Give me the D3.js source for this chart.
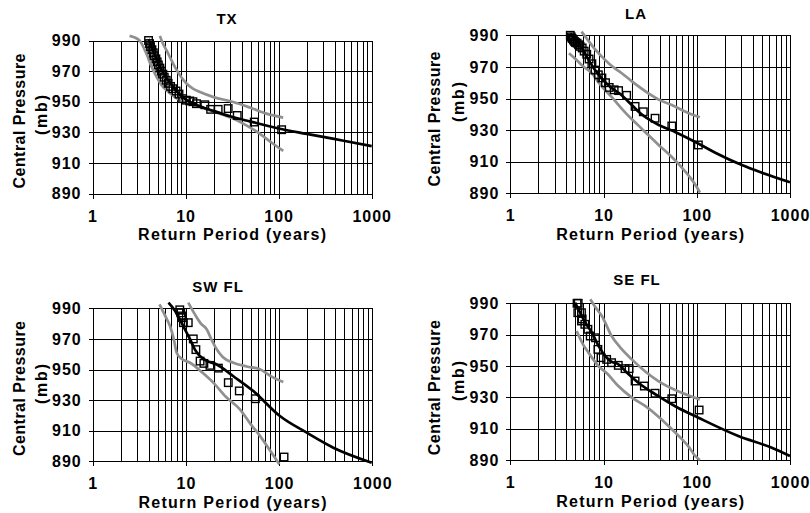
<!DOCTYPE html>
<html>
<head>
<meta charset="utf-8">
<script src="https://cdn.jsdelivr.net/npm/d3@7"></script>
<style>
body { margin: 0; background: #fff; }
svg text { font-family: "Liberation Sans", Arial, sans-serif; font-weight: bold; fill: #000; }
</style>
</head>
<body>
<svg id="chart" width="810" height="513"></svg>
<script>
// values: [return period (years), central pressure (mb)]
var panelNames = ["TX", "LA", "SW FL", "SE FL"];
var xTickValues = [1, 10, 100, 1000];
var yTickValues = [890, 910, 930, 950, 970, 990];
var xTitle = "Return Period (years)";
var yTitle = ["Central Pressure", "(mb)"];

var txObs = [[4.0,990],[4.1,988],[4.2,986],[4.35,984],[4.5,982],[4.6,980],[4.8,978],[4.95,976],[5.1,974],[5.3,972],
    [5.5,970],[5.7,968],[5.9,966],[6.2,964],[6.5,962],[6.9,960],[7.3,958.5],[7.9,957],[8.5,955],[9.3,952],
    [10.2,951],[11.1,950.5],[12,950],[13.1,948.7],[16.1,948],[18.6,945],[22.4,945],[28.7,945.5],[35.9,941],
    [54.7,936.7],[107.7,931.7]];
var txFit = [[4,991],[4.5,983],[5,976],[5.5,971],[6,967],[7,961.5],[8,957],[10,951.5],[12,949],[15,946.5],
    [20,944],[30,940.5],[50,937],[100,932.5],[200,929],[300,927],[500,924.5],[1000,921]];
var txUpper = [[5.3,993],[5.7,988],[6.25,983.5],[7,977.5],[7.7,972.6],[9,966],[10.3,961.7],[12,958.5],
    [14.3,956.3],[20,953],[32.5,949.8],[50,946],[74,942.2],[112,939.6]];
var txLower = [[2.5,993],[3.2,990],[3.8,981.3],[4.3,973],[4.9,966],[5.5,961],[6.25,957.4],[7.5,953.5],
    [8.7,951],[10,949.5],[14.3,946.5],[20,943.5],[32.5,939],[45,934.5],[63,929],[85,923],[112,917.8]];

var laObs = [[4.4,990],[4.5,989],[4.6,988],[4.75,987],[4.9,986],[5.0,985.5],[5.2,985],[5.4,984],[5.6,983],
    [5.9,982],[6.2,980],[6.6,978],[7.0,975],[7.5,972],[8.1,968],[8.8,965],[9.6,963],[10.5,960],[11.5,957],
    [13,955.5],[14.5,955],[17.7,952],[21.8,945],[26.7,941.6],[35.7,937.5],[54,932.6],[104,920.6]];
var laFit = [[4.4,991],[5,987],[6,981],[7,974],[8,968.5],[10,961.5],[12,957],[15,953],[20,946],[25,940.5],
    [40,933],[60,928.5],[100,922],[160,915.5],[300,908],[500,903],[1000,897]];
var laUpper = [[5.8,992.3],[7,986],[8,981.5],[9.6,976.5],[12,971],[15.7,966],[20,961],[30.3,953.3],
    [40,949],[54,945.9],[80,941],[108,938.1]];
var laLower = [[4.26,978.6],[5,975],[6,970.5],[7.5,966],[9,959.5],[12.2,951],[16,943],[20,937],[23.6,933],
    [30,927],[40,920],[54,913],[70,906],[85,900],[100,894],[108,890.4]];

var swObs = [[8.6,989],[8.8,987],[9.0,985],[9.2,983.9],[9.4,980.6],[10.6,980.6],[12,970],[12.8,963],
    [14.2,955.5],[15.6,954],[18.1,952.7],[22.3,950.9],[28.5,941.4],[37.4,936],[55.6,930.9],[113,892.8]];
var swFit = [[6.5,993.7],[7.5,989],[8.6,982.8],[10,975],[11.1,969.7],[12.5,963],[14.2,958.7],[17,955.5],
    [21.4,953.3],[32.3,945.6],[52.9,935.9],[102,919.6],[198,908.7],[382,898.9],[986,889.1]];
var swUpper = [[10.6,993.7],[12.5,986],[14.5,980],[16.7,976.3],[19,969],[21.4,963.2],[25,958],[32.3,954.4],
    [45,952],[62.4,950.1],[85,945],[111,941.8]];
var swLower = [[5.2,992.6],[6,985],[6.75,978.4],[7.4,970],[7.96,961],[9,957],[11.1,954.4],[15,948],
    [19.7,941.4],[27,932],[38,924],[50,914],[62.4,906.6],[80,897],[100.5,888]];

var seObs = [[5.2,990],[5.35,990],[5.3,984],[5.8,984],[5.8,978.7],[5.9,980],[6.3,976.6],[6.8,973.4],
    [7.2,969.1],[8.2,968],[8.7,960.6],[9.4,955.3],[10.8,954.2],[12.2,952.1],[14.4,950.4],[17,948.3],
    [18.8,948.3],[21.8,940.4],[27.4,937.2],[35.7,932.6],[54,929.1],[106,921.9]];
var seFit = [[4.95,990.4],[5.5,985],[6.2,979],[7.5,971.2],[9,962],[10.4,956.4],[12,953],[14.4,951.1],
    [18,945.5],[23.6,939.3],[38.7,930.8],[60,924],[104,917],[279,905.3],[638,897.8],[1000,892.5]];
var seUpper = [[7.2,992.6],[8.3,987],[9.6,981.9],[12.2,969.1],[15,962],[20.1,954.2],[28,946.5],
    [38.7,940.4],[69,932.9],[108,928.7]];
var seLower = [[5.15,972.3],[6,964],[6.9,958.5],[8.8,950],[11,945],[14.4,937.2],[20,930],[27.9,924.5],
    [40,917],[54,909.6],[70,903],[81,898.9],[95,893],[108,890]];

// layout of each panel (plot box, title, axis titles)
var panels = [
    {name: panelNames[0], obs: txObs, fit: txFit, upper: txUpper, lower: txLower,
     box: [92.5, 371.7, 40.5, 193.5], title: [227, 24], cp: [25, 121], mb: [47, 115]},
    {name: panelNames[1], obs: laObs, fit: laFit, upper: laUpper, lower: laLower,
     box: [510.3, 790, 35.3, 193.3], title: [636, 19], cp: [440, 119], mb: [463.5, 102]},
    {name: panelNames[2], obs: swObs, fit: swFit, upper: swUpper, lower: swLower,
     box: [92.7, 372.3, 308.3, 461.3], title: [218, 292], cp: [25, 388.5], mb: [47, 384]},
    {name: panelNames[3], obs: seObs, fit: seFit, upper: seUpper, lower: seLower,
     box: [510.3, 790, 303.3, 460], title: [637, 285], cp: [440, 387.7], mb: [463.5, 381]}
];

// every 1..9 x 10^n position gets a gridline
var gridX = [];
[1, 10, 100].forEach(d => { for (var k = 1; k < 10; k++) gridX.push(k * d); });
gridX.push(1000);

var svg = d3.select("#chart");

function drawPanel(p) {
    var left = p.box[0], right = p.box[1], top = p.box[2], bottom = p.box[3];
    var xScale = d3.scaleLog().domain([1, 1000]).range([left, right]);
    var yScale = d3.scaleLinear().domain([890, 990]).range([bottom, top]);
    var g = svg.append("g");

    // gridlines
    g.append("g")
        .attr("transform", "translate(0," + bottom + ")")
        .call(d3.axisBottom(xScale).tickValues(gridX).tickSize(-(bottom - top)).tickFormat(""))
        .call(a => a.select(".domain").remove())
        .selectAll("line").attr("stroke", "#000").attr("shape-rendering", "crispEdges");
    g.append("g")
        .attr("transform", "translate(" + left + ",0)")
        .call(d3.axisLeft(yScale).tickValues(yTickValues).tickSize(-(right - left)).tickFormat(""))
        .call(a => a.select(".domain").remove())
        .selectAll("line").attr("stroke", "#000").attr("shape-rendering", "crispEdges");

    // axes
    var xAxis = g.append("g")
        .attr("transform", "translate(0," + bottom + ")")
        .call(d3.axisBottom(xScale).tickValues(xTickValues).tickSize(5).tickSizeOuter(0).tickFormat(d3.format("d")));
    xAxis.selectAll("text").attr("y", 28).attr("dy", 0).style("font-size", "16px").style("letter-spacing", "1px");
    var yAxis = g.append("g")
        .attr("transform", "translate(" + left + ",0)")
        .call(d3.axisLeft(yScale).tickValues(yTickValues).tickSize(4).tickSizeOuter(0).tickPadding(7));
    yAxis.selectAll("text").style("font-size", "16px").style("letter-spacing", "1px");
    [xAxis, yAxis].forEach(a => {
        a.selectAll("line, path").attr("stroke", "#000").attr("shape-rendering", "crispEdges");
        a.selectAll("text").attr("font-family", null);
    });

    var line = d3.line()
        .x(d => xScale(d[0]))
        .y(d => yScale(d[1]))
        .curve(d3.curveMonotoneX);

    [p.upper, p.lower].forEach(s => {
        g.append("path").datum(s)
            .attr("fill", "none").attr("stroke", "#909090").attr("stroke-width", 2.7)
            .attr("stroke-linejoin", "round").attr("d", line);
    });
    g.append("path").datum(p.fit)
        .attr("fill", "none").attr("stroke", "#000").attr("stroke-width", 2.7)
        .attr("stroke-linejoin", "round").attr("d", line);

    g.append("g").selectAll("rect")
        .data(p.obs)
        .enter()
        .append("rect")
        .attr("x", d => xScale(d[0]) - 3.75)
        .attr("y", d => yScale(d[1]) - 3.75)
        .attr("width", 7.5).attr("height", 7.5)
        .attr("fill", "none").attr("stroke", "#000").attr("stroke-width", 1.4);

    // texts
    g.append("text")
        .attr("x", p.title[0]).attr("y", p.title[1])
        .attr("text-anchor", "middle").style("font-size", "15px").style("letter-spacing", "1px")
        .text(p.name);
    g.append("text")
        .attr("x", (left + right) / 2).attr("y", bottom + 46.5)
        .attr("text-anchor", "middle").style("font-size", "16px")
        .attr("textLength", 188).attr("lengthAdjust", "spacing")
        .text(xTitle);
    g.append("text")
        .attr("transform", "translate(" + p.cp[0] + "," + p.cp[1] + ") rotate(-90)")
        .attr("text-anchor", "middle").style("font-size", "16px")
        .attr("textLength", 135).attr("lengthAdjust", "spacing")
        .text(yTitle[0]);
    g.append("text")
        .attr("transform", "translate(" + p.mb[0] + "," + p.mb[1] + ") rotate(-90)")
        .attr("text-anchor", "middle").style("font-size", "16px")
        .attr("textLength", 40).attr("lengthAdjust", "spacing")
        .text(yTitle[1]);
}

panels.forEach(drawPanel);
</script>
</body>
</html>
